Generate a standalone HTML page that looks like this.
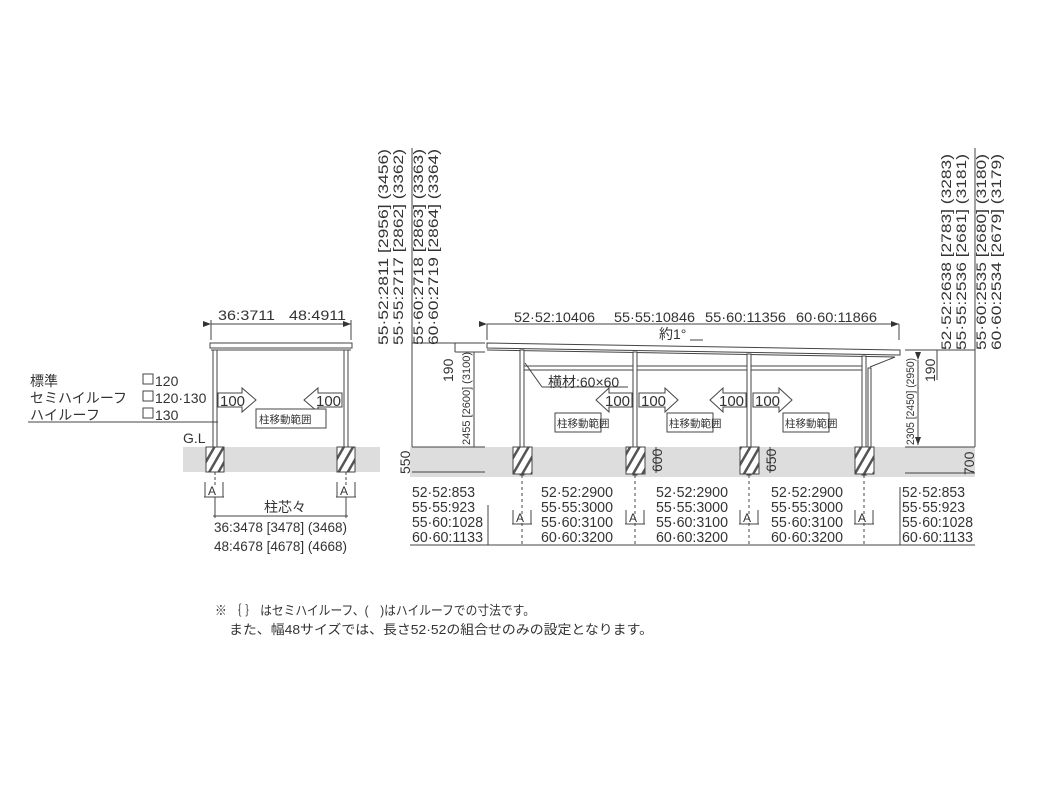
<!DOCTYPE html>
<html><head><meta charset="utf-8"><style>
html,body{margin:0;padding:0;background:#fff}
svg{display:block}
text{font-family:"Liberation Sans","Noto Sans CJK JP",sans-serif;fill:#333}
</style></head><body>
<svg width="1048" height="786" viewBox="0 0 1048 786" xmlns="http://www.w3.org/2000/svg">
<defs>
<pattern id="h" width="8" height="8" patternUnits="userSpaceOnUse" patternTransform="rotate(30)">
<rect width="8" height="8" fill="#fff"/><rect width="2.5" height="8" fill="#555"/></pattern>
<marker id="ar" markerWidth="8" markerHeight="6" refX="8" refY="3" orient="auto" markerUnits="userSpaceOnUse"><path d="M0,0 L8,3 L0,6z" fill="#333"/></marker>
</defs>
<g stroke="#444" fill="none" stroke-width="1">
<rect x="183" y="447" width="197" height="25" fill="#ddd" stroke="none"/>
<rect x="410" y="447" width="565" height="30" fill="#ddd" stroke="none"/>
<line x1="211" y1="324" x2="351" y2="324" marker-start="url(#ar)" marker-end="url(#ar)"/>
<line x1="211" y1="320" x2="211" y2="340"/><line x1="351" y1="320" x2="351" y2="340"/>
<rect x="210" y="343" width="142" height="5" fill="#fff"/>
<line x1="211" y1="350" x2="351" y2="350"/>
<rect x="213" y="350" width="4" height="122" fill="#fff"/>
<rect x="344" y="350" width="4" height="122" fill="#fff"/>
<rect x="206" y="447" width="18" height="25" fill="url(#h)"/>
<rect x="337" y="447" width="18" height="25" fill="url(#h)"/>
<line x1="28" y1="422" x2="218" y2="422"/>
<line x1="215" y1="472" x2="215" y2="486" stroke-dasharray="3,2"/>
<line x1="346" y1="472" x2="346" y2="486" stroke-dasharray="3,2"/>
<path d="M205,482 V497 M223,482 V497 M204,497 H224 M337,482 V497 M355,482 V497 M336,497 H356"/>
<line x1="215" y1="497" x2="215" y2="518"/><line x1="346" y1="497" x2="346" y2="518"/>
<line x1="213" y1="516" x2="348" y2="516"/>
<rect x="143" y="374" width="10" height="10"/><rect x="143" y="391" width="10" height="10"/><rect x="143" y="408" width="10" height="10"/>
<path d="M218,393 H242 V388 L256,400 L242,412 V407 H218Z" fill="#fff"/>
<path d="M342,393 H318 V388 L304,400 L318,412 V407 H342Z" fill="#fff"/>
<rect x="256" y="409" width="70" height="19" fill="#fff"/>
<line x1="412" y1="148" x2="412" y2="447"/>
<line x1="975" y1="148" x2="975" y2="447"/>
<line x1="487" y1="324" x2="899" y2="324" marker-start="url(#ar)" marker-end="url(#ar)"/>
<line x1="487" y1="324" x2="487" y2="340"/><line x1="899" y1="324" x2="899" y2="340"/>
<line x1="412" y1="343" x2="485" y2="343"/>
<line x1="455" y1="343" x2="455" y2="352"/><line x1="455" y1="352" x2="485" y2="352"/>
<line x1="474" y1="352" x2="474" y2="447"/>
<line x1="412" y1="447" x2="485" y2="447"/>
<line x1="412" y1="472" x2="485" y2="472"/>
<line x1="905" y1="350" x2="975" y2="350"/>
<line x1="937" y1="350" x2="937" y2="380"/>
<line x1="918" y1="360" x2="918" y2="445" marker-start="url(#ar)" marker-end="url(#ar)"/>
<line x1="905" y1="447" x2="975" y2="447"/>
<line x1="905" y1="473" x2="975" y2="473"/>
<line x1="656" y1="447" x2="656" y2="473"/>
<line x1="770" y1="447" x2="770" y2="473"/>
<path d="M487,343 L900,350 L900,355 L487,348Z" fill="#fff"/>
<line x1="487" y1="350" x2="895" y2="357"/>
<path d="M870,367 L895,357" />
<rect x="521" y="366" width="344" height="4" fill="#fff"/>
<line x1="525" y1="363" x2="542" y2="387"/><line x1="542" y1="387" x2="628" y2="387"/>
<rect x="520" y="350" width="4" height="125" fill="#fff"/>
<rect x="633" y="352" width="4" height="123" fill="#fff"/>
<rect x="747" y="354" width="4" height="121" fill="#fff"/>
<rect x="862" y="356" width="4" height="119" fill="#fff"/>
<rect x="868" y="368" width="3" height="79" fill="#fff"/>
<rect x="513" y="447" width="19" height="27" fill="url(#h)"/>
<rect x="626" y="447" width="19" height="27" fill="url(#h)"/>
<rect x="740" y="447" width="19" height="27" fill="url(#h)"/>
<rect x="855" y="447" width="19" height="27" fill="url(#h)"/>
<path d="M632,393 H609 V388 L596,400 L609,412 V407 H632Z" fill="#fff"/>
<path d="M639,393 H665 V388 L678,400 L665,412 V407 H639Z" fill="#fff"/>
<path d="M746,393 H723 V388 L710,400 L723,412 V407 H746Z" fill="#fff"/>
<path d="M753,393 H779 V388 L792,400 L779,412 V407 H753Z" fill="#fff"/>
<rect x="555" y="413" width="46" height="19" fill="#fff"/>
<rect x="667" y="413" width="46" height="19" fill="#fff"/>
<rect x="783" y="413" width="46" height="19" fill="#fff"/>
<line x1="410" y1="545" x2="975" y2="545"/>
<line x1="488" y1="505" x2="488" y2="545"/>
<line x1="900" y1="487" x2="900" y2="545"/>
<g stroke-dasharray="3,3"><line x1="522" y1="475" x2="522" y2="545"/><line x1="635" y1="475" x2="635" y2="545"/><line x1="749" y1="475" x2="749" y2="545"/><line x1="864" y1="475" x2="864" y2="545"/></g>
<path d="M513,510 V524 M531,510 V524 M512,524 H532 M626,510 V524 M644,510 V524 M625,524 H645 M740,510 V524 M758,510 V524 M739,524 H759 M855,510 V524 M873,510 V524 M854,524 H874"/>
<line x1="690" y1="340" x2="703" y2="340"/>
</g>
<g font-size="14">
<text x="218" y="320" textLength="57" lengthAdjust="spacingAndGlyphs">36:3711</text><text x="289" y="320" textLength="57" lengthAdjust="spacingAndGlyphs">48:4911</text>
<text x="30" y="386" textLength="28">標準</text><text x="30" y="403" textLength="97">セミハイルーフ</text><text x="30" y="420" textLength="70">ハイルーフ</text>
<text x="155" y="386">120</text><text x="155" y="403">120·130</text><text x="155" y="420">130</text>
<text x="183" y="443">G.L</text>
<text x="264" y="512">柱芯々</text>
<text x="214" y="532" textLength="133" lengthAdjust="spacingAndGlyphs">36:3478  [3478]  (3468)</text>
<text x="214" y="551" textLength="133" lengthAdjust="spacingAndGlyphs">48:4678  [4678]  (4668)</text>
<text x="514" y="322" textLength="81" lengthAdjust="spacingAndGlyphs">52·52:10406</text><text x="614" y="322" textLength="81" lengthAdjust="spacingAndGlyphs">55·55:10846</text><text x="705" y="322" textLength="81" lengthAdjust="spacingAndGlyphs">55·60:11356</text><text x="796" y="322" textLength="81" lengthAdjust="spacingAndGlyphs">60·60:11866</text>
<text x="659" y="339">約1°</text>
<text x="548" y="387">横材:60×60</text>
</g>
<g font-size="14.5">
<text x="412" y="497" textLength="63" lengthAdjust="spacingAndGlyphs">52·52:853</text><text x="412" y="512" textLength="63" lengthAdjust="spacingAndGlyphs">55·55:923</text><text x="412" y="527" textLength="71" lengthAdjust="spacingAndGlyphs">55·60:1028</text><text x="412" y="542" textLength="71" lengthAdjust="spacingAndGlyphs">60·60:1133</text>
<text x="541" y="497" textLength="72" lengthAdjust="spacingAndGlyphs">52·52:2900</text><text x="541" y="512" textLength="72" lengthAdjust="spacingAndGlyphs">55·55:3000</text><text x="541" y="527" textLength="72" lengthAdjust="spacingAndGlyphs">55·60:3100</text><text x="541" y="542" textLength="72" lengthAdjust="spacingAndGlyphs">60·60:3200</text>
<text x="656" y="497" textLength="72" lengthAdjust="spacingAndGlyphs">52·52:2900</text><text x="656" y="512" textLength="72" lengthAdjust="spacingAndGlyphs">55·55:3000</text><text x="656" y="527" textLength="72" lengthAdjust="spacingAndGlyphs">55·60:3100</text><text x="656" y="542" textLength="72" lengthAdjust="spacingAndGlyphs">60·60:3200</text>
<text x="771" y="497" textLength="72" lengthAdjust="spacingAndGlyphs">52·52:2900</text><text x="771" y="512" textLength="72" lengthAdjust="spacingAndGlyphs">55·55:3000</text><text x="771" y="527" textLength="72" lengthAdjust="spacingAndGlyphs">55·60:3100</text><text x="771" y="542" textLength="72" lengthAdjust="spacingAndGlyphs">60·60:3200</text>
<text x="902" y="497" textLength="63" lengthAdjust="spacingAndGlyphs">52·52:853</text><text x="902" y="512" textLength="63" lengthAdjust="spacingAndGlyphs">55·55:923</text><text x="902" y="527" textLength="71" lengthAdjust="spacingAndGlyphs">55·60:1028</text><text x="902" y="542" textLength="71" lengthAdjust="spacingAndGlyphs">60·60:1133</text>
</g>
<g font-size="15">
<text x="220" y="406">100</text><text x="316" y="406">100</text>
<text x="605" y="406">100</text><text x="641" y="406">100</text><text x="719" y="406">100</text><text x="755" y="406">100</text>
</g>
<g font-size="10.5">
<text x="259" y="423">柱移動範囲</text>
<text x="557" y="427">柱移動範囲</text><text x="669" y="427">柱移動範囲</text><text x="785" y="427">柱移動範囲</text>
</g>
<g font-size="12">
<text x="208" y="495">A</text><text x="340" y="495">A</text>
<text x="516" y="522">A</text><text x="629" y="522">A</text><text x="743" y="522">A</text><text x="858" y="522">A</text>
</g>
<g font-size="14">
<text transform="translate(388,345) rotate(-90)" textLength="196" lengthAdjust="spacingAndGlyphs">55·52:2811  [2956]  (3456)</text>
<text transform="translate(403,345) rotate(-90)" textLength="196" lengthAdjust="spacingAndGlyphs">55·55:2717  [2862]  (3362)</text>
<text transform="translate(423,345) rotate(-90)" textLength="196" lengthAdjust="spacingAndGlyphs">55·60:2718  [2863]  (3363)</text>
<text transform="translate(438,345) rotate(-90)" textLength="196" lengthAdjust="spacingAndGlyphs">60·60:2719  [2864]  (3364)</text>
<text transform="translate(951,350) rotate(-90)" textLength="196" lengthAdjust="spacingAndGlyphs">52·52:2638  [2783]  (3283)</text>
<text transform="translate(966,350) rotate(-90)" textLength="196" lengthAdjust="spacingAndGlyphs">55·55:2536  [2681]  (3181)</text>
<text transform="translate(986,350) rotate(-90)" textLength="196" lengthAdjust="spacingAndGlyphs">55·60:2535  [2680]  (3180)</text>
<text transform="translate(1001,350) rotate(-90)" textLength="196" lengthAdjust="spacingAndGlyphs">60·60:2534  [2679]  (3179)</text>
<text transform="translate(453,382) rotate(-90)">190</text>
<text transform="translate(410,474) rotate(-90)">550</text>
<text transform="translate(662,472) rotate(-90)">600</text>
<text transform="translate(776,472) rotate(-90)">650</text>
<text transform="translate(935,382) rotate(-90)">190</text>
<text transform="translate(974,475) rotate(-90)">700</text>
</g>
<g font-size="11">
<text transform="translate(470,445) rotate(-90)" textLength="93" lengthAdjust="spacingAndGlyphs">2455 [2600] (3100)</text>
<text transform="translate(914,445) rotate(-90)" textLength="87" lengthAdjust="spacingAndGlyphs">2305 [2450] (2950)</text>
</g>
<g font-size="13">
<text x="215" y="615" textLength="320" lengthAdjust="spacingAndGlyphs">※ ｛ ｝ はセミハイルーフ、(　)はハイルーフでの寸法です。</text>
<text x="229" y="634" textLength="424" lengthAdjust="spacingAndGlyphs">また、幅48サイズでは、長さ52·52の組合せのみの設定となります。</text>
</g>
</svg>
</body></html>
